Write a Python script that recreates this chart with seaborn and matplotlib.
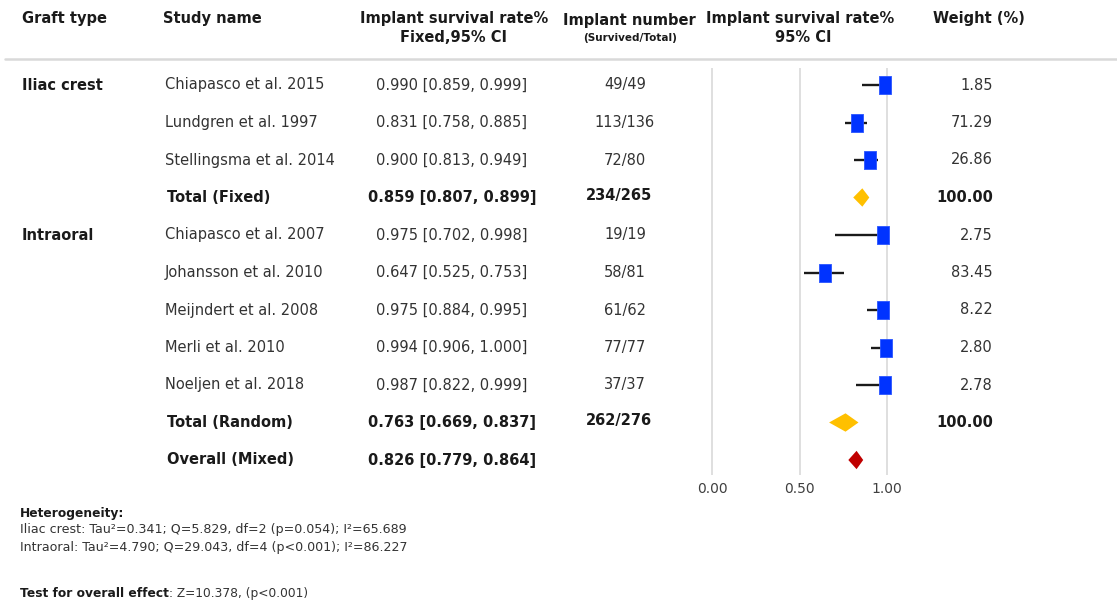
import matplotlib
matplotlib.use("Agg")
import matplotlib.pyplot as plt
from matplotlib.lines import Line2D
import seaborn as sns
import pandas as pd

# ---- study-level data ----
groups = ["Iliac crest", "Iliac crest", "Iliac crest",
          "Intraoral", "Intraoral", "Intraoral", "Intraoral", "Intraoral"]
studies = ["Chiapasco et al. 2015", "Lundgren et al. 1997", "Stellingsma et al. 2014",
           "Chiapasco et al. 2007", "Johansson et al. 2010", "Meijndert et al. 2008",
           "Merli et al. 2010", "Noeljen et al. 2018"]
estimate = [0.990, 0.831, 0.900, 0.975, 0.647, 0.975, 0.994, 0.987]
ci_low = [0.859, 0.758, 0.813, 0.702, 0.525, 0.884, 0.906, 0.822]
ci_high = [0.999, 0.885, 0.949, 0.998, 0.753, 0.995, 1.000, 0.999]
survived = [49, 113, 72, 19, 58, 61, 77, 37]
total = [49, 136, 80, 19, 81, 62, 77, 37]
weight = [1.85, 71.29, 26.86, 2.75, 83.45, 8.22, 2.80, 2.78]

# ---- pooled estimates ----
summary_labels = ["Total (Fixed)", "Total (Random)", "Overall (Mixed)"]
summary_est = [0.859, 0.763, 0.826]
summary_low = [0.807, 0.669, 0.779]
summary_high = [0.899, 0.837, 0.864]
summary_survived = [234, 262, None]
summary_total = [265, 276, None]
summary_weight = [100.00, 100.00, None]
summary_colors = ["#ffc000", "#ffc000", "#c00000"]

x_ticks = [0.0, 0.5, 1.0]
x_tick_labels = ["0.00", "0.50", "1.00"]

# row layout: studies of each group followed by its total, overall last
study_rows = [0, 1, 2, 4, 5, 6, 7, 8]
summary_rows = [3, 9, 10]

df = pd.DataFrame({"group": groups, "study": studies, "est": estimate,
                   "lo": ci_low, "hi": ci_high, "row": study_rows})

sns.set_theme(style="white")
plt.rcParams["font.family"] = ["DejaVu Sans"]

W, H = 1117, 612
fig = plt.figure(figsize=(W / 100, H / 100), dpi=100)


def fx(x):
    return x / W


def fy(y):
    return 1 - y / H


DARK = "#1a1a1a"
TXT = "#333333"
FS = 10.5

# forest panel: x=0 at 712 px, 175 px per unit
x0, unit = 712, 175
xmin, xmax = -0.05, 1.2
top_px, bot_px = 68, 475
left_px = x0 + xmin * unit
right_px = x0 + xmax * unit
ax = fig.add_axes([fx(left_px), fy(bot_px), (right_px - left_px) / W, (bot_px - top_px) / H])
row0_px, row_step = 85, 37.5
ax.set_xlim(xmin, xmax)
ax.set_ylim((bot_px - row0_px) / row_step, (top_px - row0_px) / row_step)
for s in ax.spines.values():
    s.set_visible(False)
ax.set_yticks([])
ax.set_xticks(x_ticks)
ax.set_xticklabels(x_tick_labels, fontsize=10, color="#404040")
ax.tick_params(axis="x", length=0, pad=5)
for xv in x_ticks:
    ax.axvline(xv, color="#d6d6d6", lw=1.1, zorder=0)

# confidence intervals and study boxes
ax.hlines(df["row"], df["lo"], df["hi"], color="#1a1a1a", lw=1.7, zorder=2)
box = [(-0.38, -0.5), (0.38, -0.5), (0.38, 0.5), (-0.38, 0.5), (-0.38, -0.5)]
sns.scatterplot(data=df, x="est", y="row", marker=box, s=150, color="#0033ff",
                edgecolor="#2a55ff", linewidth=0.6, ax=ax, zorder=3, legend=False,
                clip_on=False)
ax.set_xlabel("")
ax.set_ylabel("")

# pooled diamonds spanning their confidence intervals
half_h = 0.245
for r, e, lo, hi, c in zip(summary_rows, summary_est, summary_low, summary_high, summary_colors):
    ax.fill([lo, e, hi, e], [r, r - half_h, r, r + half_h], color=c, lw=0, zorder=3)

# header
fig.text(fx(22), fy(18), "Graft type", fontsize=FS, fontweight="bold", color=DARK, va="center")
fig.text(fx(163), fy(18), "Study name", fontsize=FS, fontweight="bold", color=DARK, va="center")
fig.text(fx(454), fy(18), "Implant survival rate%", fontsize=FS, fontweight="bold", color=DARK,
         va="center", ha="center")
fig.text(fx(454), fy(38), "Fixed,95% CI", fontsize=FS, fontweight="bold", color=DARK,
         va="center", ha="center")
fig.text(fx(629), fy(20), "Implant number", fontsize=FS, fontweight="bold", color=DARK,
         va="center", ha="center")
fig.text(fx(630), fy(38), "(Survived/Total)", fontsize=7.5, fontweight="bold", color=DARK,
         va="center", ha="center")
fig.text(fx(800), fy(18), "Implant survival rate%", fontsize=FS, fontweight="bold", color=DARK,
         va="center", ha="center")
fig.text(fx(803), fy(38), "95% CI", fontsize=FS, fontweight="bold", color=DARK,
         va="center", ha="center")
fig.text(fx(979), fy(18), "Weight (%)", fontsize=FS, fontweight="bold", color=DARK,
         va="center", ha="center")
fig.add_artist(Line2D([fx(5), 1.0], [fy(59), fy(59)], transform=fig.transFigure,
                      color="#d9d9d9", lw=1.8))


def row_y(r):
    return fy(row0_px + row_step * r)


# group labels
shown = set()
for g, r in zip(groups, study_rows):
    if g not in shown:
        shown.add(g)
        fig.text(fx(22), row_y(r), g, fontsize=FS, fontweight="bold", color=DARK, va="center")

# study rows
for name, r, e, lo, hi, sv, tt, w in zip(studies, study_rows, estimate, ci_low, ci_high,
                                          survived, total, weight):
    y = row_y(r)
    fig.text(fx(165), y, name, fontsize=FS, color=TXT, va="center")
    fig.text(fx(452), y, f"{e:.3f} [{lo:.3f}, {hi:.3f}]", fontsize=FS, color=TXT,
             va="center", ha="center")
    fig.text(fx(625), y, f"{sv}/{tt}", fontsize=FS, color=TXT, va="center", ha="center")
    fig.text(fx(993), y, f"{w:.2f}", fontsize=FS, color=TXT, va="center", ha="right")

# pooled rows
for lab, r, e, lo, hi, sv, tt, w in zip(summary_labels, summary_rows, summary_est, summary_low,
                                         summary_high, summary_survived, summary_total,
                                         summary_weight):
    y = row_y(r)
    fig.text(fx(167), y, lab, fontsize=FS, fontweight="bold", color=DARK, va="center")
    fig.text(fx(452), y, f"{e:.3f} [{lo:.3f}, {hi:.3f}]", fontsize=FS, fontweight="bold",
             color=DARK, va="center", ha="center")
    if sv is not None:
        fig.text(fx(619), fy(row0_px + row_step * r - 2), f"{sv}/{tt}", fontsize=FS,
                 fontweight="bold", color=DARK, va="center", ha="center")
    if w is not None:
        fig.text(fx(993), y, f"{w:.2f}", fontsize=FS, fontweight="bold", color=DARK,
                 va="center", ha="right")

# footnotes
fig.text(fx(20), fy(513), "Heterogeneity:", fontsize=8.8, fontweight="bold", color=DARK,
         va="center")
fig.text(fx(20), fy(530), "Iliac crest: Tau\u00b2=0.341; Q=5.829, df=2 (p=0.054); I\u00b2=65.689",
         fontsize=9.1, color=TXT, va="center")
fig.text(fx(20), fy(547), "Intraoral: Tau\u00b2=4.790; Q=29.043, df=4 (p<0.001); I\u00b2=86.227",
         fontsize=9.1, color=TXT, va="center")
t_bold = fig.text(fx(20), fy(597), "Test for overall effect", fontsize=8.8, fontweight="bold",
                  color=DARK, va="baseline")
fig.canvas.draw()
fig.text(0, 0, ": Z=10.378, (p<0.001)", fontsize=8.8, color=TXT, va="baseline")
last = fig.texts[-1]
bb = t_bold.get_window_extent()
last.set_position((bb.x1 / W, t_bold.get_position()[1]))

fig.savefig("out.png", dpi=100, facecolor="white")
